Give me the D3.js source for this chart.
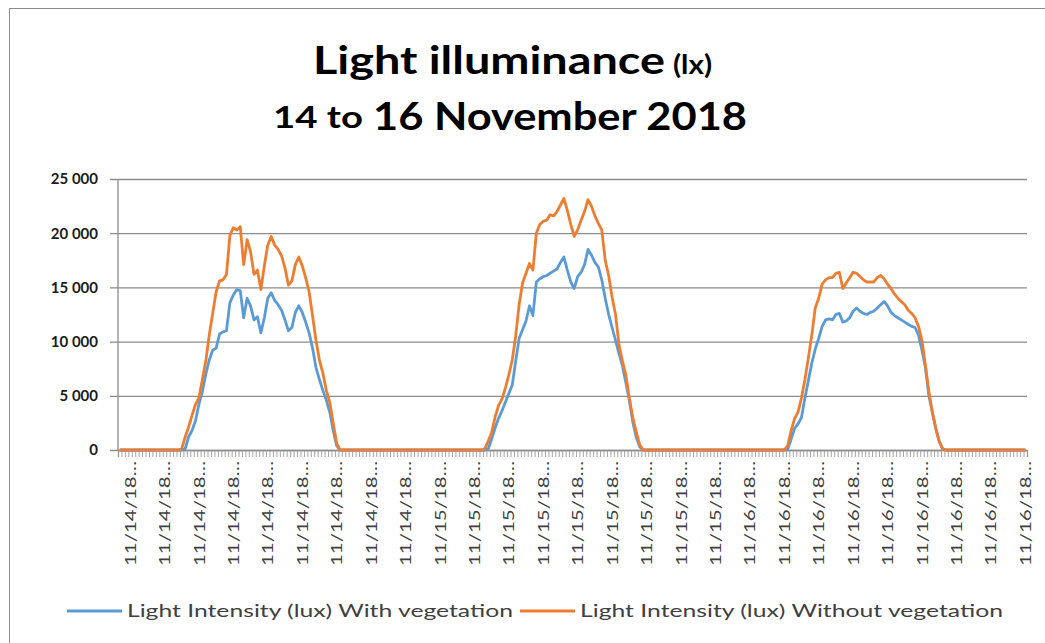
<!DOCTYPE html>
<meta charset="utf-8">
<style>
body { margin: 0; background: #fff; }
text { font-family: Lato, "Open Sans", sans-serif; }
.title { font-weight: bold; fill: #000; }
.ylab text { font-weight: bold; font-size: 15px; fill: #1a1a1a; }
.xlab { font-size: 16px; fill: #404040; }
.legend text { font-size: 17px; fill: #404040; }
</style>
<body>
<script src="https://d3js.org/d3.v7.min.js"></script>
<script>
// readings, one every category (88 per day), lux
var withVeg = [
  0,0,0,0,0,0,0,0,0,0,0,0,0,0,0,0,0,0,
  0,100,1200,1800,2700,4200,5400,7000,8300,9200,9400,10700,10900,11000,13600,14300,14800,14700,12200,14000,13300,12000,12300,10800,12200,14000,14500,13800,13400,12900,12000,11000,11300,12700,13300,12700,11800,10800,9400,7600,6500,5500,4600,3500,1800,400,0,
  0,0,0,0,0,0,0,0,0,0,0,0,0,0,0,0,0,0,0,0,0,0,0,0,0,0,0,0,0,0,0,0,0,0,0,0,0,0,0,0,0,
  0,100,1000,2000,2900,3600,4400,5200,6000,8200,10300,11100,11900,13300,12400,15500,15800,16000,16100,16300,16500,16700,17300,17800,16600,15500,14900,16000,16400,17100,18500,18000,17300,16900,15700,14000,12500,11300,10100,8900,7800,6200,4600,2600,1200,300,0,
  0,0,0,0,0,0,0,0,0,0,0,0,0,0,0,0,0,0,0,0,0,0,0,0,0,0,0,0,0,0,0,0,0,0,0,0,0,0,0,0,0,
  100,1000,2000,2400,3000,4800,6400,8000,9300,10300,11400,12000,12100,12000,12500,12600,11800,11900,12200,12800,13100,12800,12600,12500,12700,12800,13100,13400,13700,13300,12700,12400,12200,12000,11800,11600,11400,11300,10600,9200,7600,5000,3500,2000,800,100,0,
  0,0,0,0,0,0,0,0,0,0,0,0,0,0,0,0,0,0,0,0,0,0,0
];
var withoutVeg = [
  0,0,0,0,0,0,0,0,0,0,0,0,0,0,0,0,0,0,
  100,1200,2100,3200,4200,4800,6500,8200,10600,12600,14600,15600,15700,16200,19800,20500,20300,20600,17100,19400,18300,16200,16600,14800,17000,18900,19700,18900,18500,17900,16800,15200,15600,17100,17800,17000,15900,14600,12400,10100,8300,7100,5500,4400,2500,600,0,
  0,0,0,0,0,0,0,0,0,0,0,0,0,0,0,0,0,0,0,0,0,0,0,0,0,0,0,0,0,0,0,0,0,0,0,0,0,0,0,0,0,
  100,800,1600,3000,4100,4700,5700,6900,8300,10500,13400,15400,16300,17200,16600,20000,20800,21100,21200,21700,21600,22000,22600,23200,22100,20800,19700,20300,21200,22000,23100,22500,21600,20900,20300,17500,16100,14100,12500,9700,8200,6900,4800,3000,1700,500,0,
  0,0,0,0,0,0,0,0,0,0,0,0,0,0,0,0,0,0,0,0,0,0,0,0,0,0,0,0,0,0,0,0,0,0,0,0,0,0,0,0,0,
  400,1800,2900,3500,4800,6500,8500,10600,13100,14000,15300,15700,15900,15900,16300,16400,14900,15400,15900,16400,16300,16000,15700,15500,15500,15500,15900,16100,15800,15300,14900,14400,14000,13700,13400,12900,12600,12200,11400,10100,7800,5400,3500,2000,800,100,0,
  0,0,0,0,0,0,0,0,0,0,0,0,0,0,0,0,0,0,0,0,0,0,0
];
var days = ["11/14/18…", "11/15/18…", "11/16/18…"];
var labelsPerDay = 9, labelEvery = 10, firstLabel = 3;
var yTicks = [0, 5000, 10000, 15000, 20000, 25000];
var seriesNames = ["Light Intensity (lux) With vegetation", "Light Intensity (lux) Without vegetation"];
var colors = ["#5b9bd5", "#ed7d31"];

var W = 1045, H = 643,
    plotL = 118, plotR = 1027, plotT = 179, plotB = 450;

var svg = d3.select("body").append("svg").attr("width", W).attr("height", H);

// chart border
svg.append("rect").attr("x", 9.5).attr("y", 8.5).attr("width", 1100).attr("height", 700)
  .attr("fill", "none").attr("stroke", "#8c8c8c").attr("stroke-width", 1);

// title
function title(t, x, y, size, len) {
  svg.append("text").attr("class", "title").attr("x", x).attr("y", y)
    .attr("font-size", size).attr("textLength", len).attr("lengthAdjust", "spacingAndGlyphs").text(t);
}
title("Light illuminance", 313, 74, 39, 352);
title("(lx)", 673, 74, 26, 39);
title("14 to", 273, 128, 31, 90);
title("16 November 2018", 373, 130, 39, 374);

var n = withVeg.length;
var x = d3.scaleLinear().domain([0, n]).range([plotL, plotR]);
var y = d3.scaleLinear().domain([0, 25000]).range([plotB, plotT]);

var fmt = d3.formatLocale({decimal: ".", thousands: " ", grouping: [3], currency: ["", ""]}).format(",");

// gridlines + y labels
var gy = svg.append("g").attr("class", "ylab").attr("transform", "translate(" + plotR + ",0)")
  .call(d3.axisLeft(y).tickValues(yTicks).tickFormat(fmt).tickSize(plotR - plotL + 8).tickPadding(12));
gy.select(".domain").remove();
gy.selectAll("line").attr("stroke", "#8c8c8c").attr("stroke-width", 1.3);

// vertical axis line
svg.append("line").attr("x1", plotL).attr("x2", plotL).attr("y1", plotT).attr("y2", plotB)
  .attr("stroke", "#8c8c8c").attr("stroke-width", 1.3);

// category ticks
var gx = svg.append("g").attr("transform", "translate(0," + plotB + ")")
  .call(d3.axisBottom(x).tickValues(d3.range(n + 1)).tickSize(7).tickFormat(""));
gx.select(".domain").attr("stroke", "#8c8c8c").attr("stroke-width", 1.3);
gx.selectAll("line").attr("stroke", "#9a9a9a").attr("stroke-width", 0.9);

// category labels
var labels = [];
days.forEach(function(d, k) {
  for (var j = 0; j < labelsPerDay; j++) labels.push({text: d, idx: firstLabel + (k * labelsPerDay + j) * labelEvery});
});
svg.selectAll(".xlab").data(labels).enter().append("text")
  .attr("class", "xlab")
  .attr("transform", function(d) { return "translate(" + x(d.idx + 0.5) + "," + (plotB + 11) + ") rotate(-90)"; })
  .attr("dy", "0.35em")
  .attr("text-anchor", "end")
  .attr("textLength", 105).attr("lengthAdjust", "spacingAndGlyphs")
  .text(function(d) { return d.text; });

// series
var line = d3.line().x(function(d, i) { return x(i + 0.5); }).y(function(d) { return y(d); });
[withVeg, withoutVeg].forEach(function(s, k) {
  svg.append("path").datum(s).attr("d", line)
    .attr("fill", "none").attr("stroke", colors[k]).attr("stroke-width", 2.8)
    .attr("stroke-linejoin", "round");
});

// legend
var leg = svg.append("g").attr("class", "legend");
var legPos = [{x: 67, len: 386}, {x: 520, len: 423}];
seriesNames.forEach(function(name, k) {
  var p = legPos[k];
  leg.append("line").attr("x1", p.x).attr("x2", p.x + 55).attr("y1", 611).attr("y2", 611)
    .attr("stroke", colors[k]).attr("stroke-width", 2.8);
  leg.append("text").attr("x", p.x + 60).attr("y", 611).attr("dy", "0.35em")
    .attr("textLength", p.len).attr("lengthAdjust", "spacingAndGlyphs").text(name);
});
</script>
</body>
